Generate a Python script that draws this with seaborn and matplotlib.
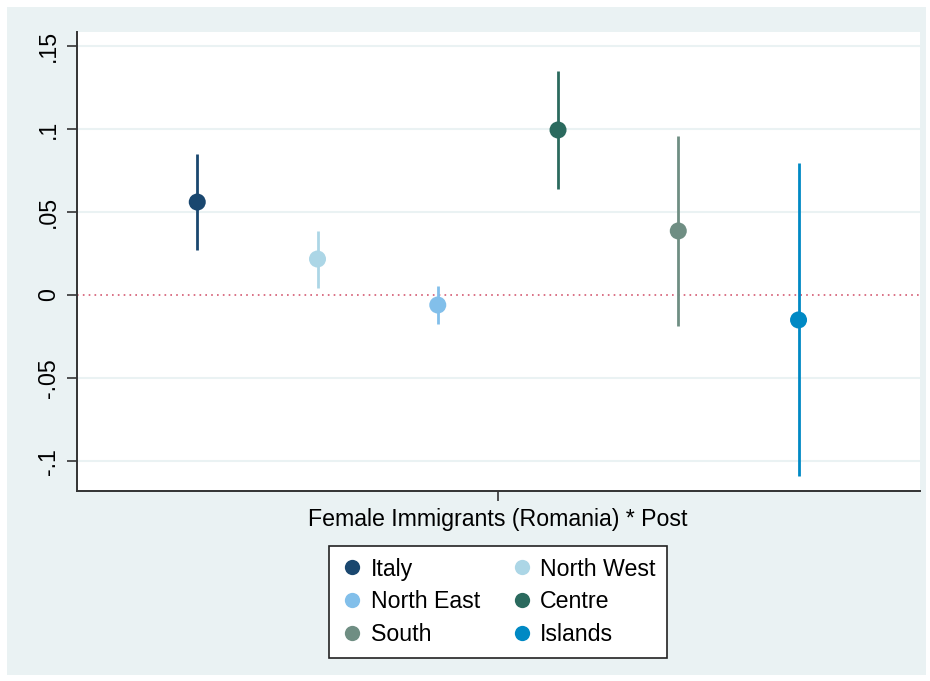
import matplotlib.pyplot as plt
import seaborn as sns
import numpy as np
import pandas as pd
from matplotlib.lines import Line2D
from matplotlib.patches import Rectangle

regions = ['Italy', 'North West', 'North East', 'Centre', 'South', 'Islands']
coef = [0.056, 0.0217, -0.006, 0.0994, 0.0386, -0.015]
ci_low = [0.027, 0.0042, -0.0175, 0.0639, -0.0187, -0.109]
ci_high = [0.085, 0.0386, 0.0054, 0.135, 0.0958, 0.0795]
colors = ['#1a476f', '#acd6e6', '#82bfea', '#2b6a5e', '#6f8e83', '#0089c4']
xlabel = 'Female Immigrants (Romania) * Post'
yticks = [-0.1, -0.05, 0, 0.05, 0.1, 0.15]
yticklabels = ['-.1', '-.05', '0', '.05', '.1', '.15']

df = pd.DataFrame({'region': regions, 'coef': coef, 'lo': ci_low, 'hi': ci_high})
df['pos'] = np.arange(len(df)) - (len(df) - 1) / 2

sns.set_style('white')
plt.rcParams['font.family'] = ['Liberation Sans', 'DejaVu Sans']
plt.rcParams['text.color'] = 'black'
fs = 16.7

fig = plt.figure(figsize=(9.3, 6.81), dpi=100)
fig.patch.set_facecolor('white')
fig.patches.append(Rectangle((7 / 930, 6 / 681), 919 / 930, 668 / 681,
                             transform=fig.transFigure, facecolor='#eaf2f3',
                             edgecolor='none', zorder=-5))
ax = fig.add_axes([77 / 930, 190 / 681, 843 / 930, 459 / 681])
ax.set_facecolor('white')

for y in yticks:
    if y != 0:
        ax.axhline(y, color='#eaf2f3', lw=1.5, zorder=0)
ax.axhline(0, color='#d45a72', lw=1.2, ls=(0, (1, 2.5)), zorder=1)

ax.vlines(df['pos'], df['lo'], df['hi'], colors=colors, lw=2.0, zorder=2)
sns.scatterplot(data=df, x='pos', y='coef', hue='region', palette=colors,
                s=150, edgecolor='none', legend=False, ax=ax, zorder=3)

ax.set_xlim(-3.5, 3.51)
ax.set_ylim(-0.118, 0.1584)
ax.set_yticks(yticks)
ax.set_yticklabels(yticklabels, rotation=90, va='center', fontsize=fs)
ax.set_xticks([0])
ax.set_xticklabels([xlabel], fontsize=fs)
ax.set_xlabel('')
ax.set_ylabel('')
ax.tick_params(axis='both', direction='out', length=7, width=1.2,
               color='#333333', labelcolor='black', pad=5, left=True, bottom=True)

for s in ['top', 'right']:
    ax.spines[s].set_visible(False)
for s in ['left', 'bottom']:
    ax.spines[s].set_color('#333333')
    ax.spines[s].set_linewidth(1.4)

handles = [Line2D([], [], marker='o', ls='none', markersize=11,
                  markerfacecolor=c, markeredgecolor='none') for c in colors]
order = [0, 2, 4, 1, 3, 5]
leg = fig.legend([handles[i] for i in order], [regions[i] for i in order],
                 ncol=2, loc='upper center', bbox_to_anchor=(498 / 930, 1 - 546 / 681),
                 bbox_transform=fig.transFigure, borderaxespad=0, fontsize=fs,
                 frameon=True, fancybox=False, edgecolor='#222222', facecolor='white',
                 framealpha=1, handletextpad=0.3, columnspacing=1.3,
                 labelspacing=0.42, borderpad=0.5, handlelength=1.0)
leg.get_frame().set_linewidth(1.2)

fig.savefig('out.png', dpi=100)
